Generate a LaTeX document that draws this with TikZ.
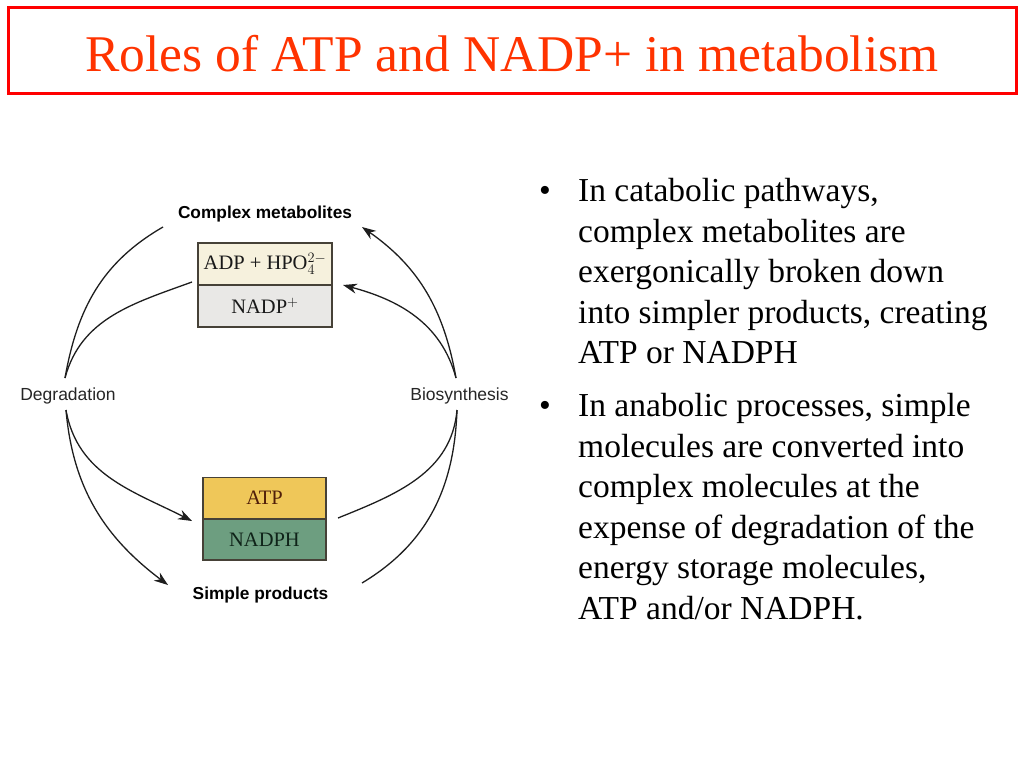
\documentclass[tikz,border=0pt]{standalone}
\usepackage{fontspec}
\newfontfamily\timesf{Liberation Serif}
\newfontfamily\dsans{Liberation Sans}
\usetikzlibrary{arrows.meta}
\definecolor{titlered}{RGB}{255,51,0}
\definecolor{boxred}{RGB}{255,0,0}
\definecolor{adpfill}{RGB}{246,241,221}
\definecolor{nadpfill}{RGB}{233,232,230}
\definecolor{atpfill}{RGB}{239,199,89}
\definecolor{nadphfill}{RGB}{109,158,128}
\definecolor{boxline}{RGB}{70,65,55}
\definecolor{curve}{RGB}{30,30,30}
\tikzset{
  cell/.style={draw=boxline, line width=1.5pt, inner sep=0pt, text=black!90, font=\timesf\fontsize{20.5}{24}\selectfont},
  boldlabel/.style={anchor=base, inner sep=0pt, font=\dsans\bfseries\fontsize{17.3}{20}\selectfont},
  plainlabel/.style={anchor=base, inner sep=0pt, font=\dsans\fontsize{17.5}{20}\selectfont, text=black!85},
  flow/.style={draw=curve, line width=1.3pt},
  flowarrow/.style={flow, -{Stealth[length=14pt,width=10pt]}},
  bullettext/.style={anchor=base west, inner sep=0pt, font=\timesf\fontsize{33.5}{40.5}\selectfont},
  bulletdot/.style={anchor=base, inner sep=0pt, font=\timesf\fontsize{33.5}{40.5}\selectfont}
}
\begin{document}
\begin{tikzpicture}[x=1pt,y=1pt]
\useasboundingbox (0,0) rectangle (1024,-768);
% title
\node[draw=boxred, line width=3pt, minimum width=1008, minimum height=85, inner sep=0pt] (titlebox) at (512.5,-50.5) {};
\node[anchor=base, inner sep=0pt, text=titlered, font=\timesf\fontsize{51.5}{60}\selectfont] (title) at (512,-71) {Roles of ATP and NADP+ in metabolism};
% labels
\node[boldlabel] (cm) at (265,-218) {Complex metabolites};
\node[boldlabel] (sp) at (260.5,-599) {Simple products};
\node[plainlabel] (deg) at (68,-400) {Degradation};
\node[plainlabel] (bio) at (459.5,-400) {Biosynthesis};
% boxes
\node[cell, fill=adpfill, minimum width=134, minimum height=42] (adp) at (265,-264) {ADP + HPO$_4^{2-}$};
\node[cell, fill=nadpfill, minimum width=134, minimum height=42] (nadp) at (265,-306) {NADP$^+$};
\node[cell, fill=atpfill, minimum width=123, minimum height=41, text={rgb,255:red,80;green,30;blue,10}] (atp) at (264.5,-498) {ATP};
\node[cell, fill=nadphfill, minimum width=123, minimum height=41, text={rgb,255:red,15;green,35;blue,25}] (nadph) at (264.5,-539.5) {NADPH};
% junction and end coordinates
\coordinate (dtop) at (65,-378);
\coordinate (dbot) at (66,-410);
\coordinate (btop) at (456,-378);
\coordinate (bbot) at (457,-410);
\coordinate (cmleft) at (163,-227);
\coordinate (adpleft) at (192,-282);
\coordinate (atpleft) at (192,-521);
\coordinate (spleft) at (168,-585);
\coordinate (cmright) at (362,-227);
\coordinate (adpright) at (343,-285);
\coordinate (atpright) at (338,-518);
\coordinate (spright) at (362,-583);
% degradation side
\draw[flow] (cmleft) to[out=210,in=80] (dtop);
\draw[flow] (adpleft) to[out=200,in=75] (dtop);
\draw[flowarrow] (dbot) to[out=-80,in=153] (atpleft);
\draw[flowarrow] (dbot) to[out=-85,in=143] (spleft);
% biosynthesis side
\draw[flowarrow] (btop) to[out=100,in=-35] (cmright);
\draw[flowarrow] (btop) to[out=105,in=-15] (adpright);
\draw[flow] (bbot) to[out=-95,in=22] (atpright);
\draw[flow] (bbot) to[out=-92,in=31] (spright);
% bullets
\node[bulletdot] (b1) at (545,-201.5) {•};
\node[bullettext] (t1) at (578,-201.5) {\parbox[t]{440pt}{\raggedright In catabolic pathways,\\ complex metabolites are\\ exergonically broken down\\ into simpler products, creating\\ ATP or NADPH}};
\node[bulletdot] (b2) at (545,-416.5) {•};
\node[bullettext] (t2) at (578,-416.5) {\parbox[t]{440pt}{\raggedright In anabolic processes, simple\\ molecules are converted into\\ complex molecules at the\\ expense of degradation of the\\ energy storage molecules,\\ ATP and/or NADPH.}};
\end{tikzpicture}
\end{document}
